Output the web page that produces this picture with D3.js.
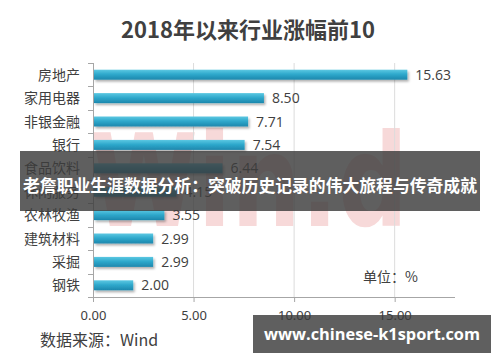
<!DOCTYPE html>
<html>
<head>
<meta charset="utf-8">
<script src="https://cdn.jsdelivr.net/npm/d3@7"></script>
<style>
body { margin: 0; background: #fff; }
text { font-family: "Noto Sans CJK SC", "Noto Sans", sans-serif; }
</style>
</head>
<body>
<div id="chart-area"></div>
<script>
// SVG size
var width = 500,
		height = 362;

// Data
var categories = ["房地产", "家用电器", "非银金融", "银行", "食品饮料", "休闲服务", "农林牧渔", "建筑材料", "采掘", "钢铁"];
var values = [15.63, 8.50, 7.71, 7.54, 6.44, 4.15, 3.55, 2.99, 2.99, 2.00];
var xTicks = [0, 5, 10, 15];

var data = categories.map(function(c, i){ return { name: c, value: values[i] }; });

var svg = d3.select("#chart-area").append("svg")
		.attr("width", width)
		.attr("height", height);

var defs = svg.append("defs");
var grad = defs.append("linearGradient")
		.attr("id", "barGrad")
		.attr("x1", 0).attr("y1", 0).attr("x2", 0).attr("y2", 1);
grad.append("stop").attr("offset", "0%").attr("stop-color", "#5cc8e2");
grad.append("stop").attr("offset", "45%").attr("stop-color", "#2fa9cc");
grad.append("stop").attr("offset", "100%").attr("stop-color", "#1d87ad");

var shadow = defs.append("filter").attr("id", "shadow")
		.attr("x", "-5%").attr("y", "-30%").attr("width", "115%").attr("height", "190%");
shadow.append("feDropShadow")
		.attr("dx", 1.5).attr("dy", 2).attr("stdDeviation", 1.3)
		.attr("flood-color", "#000").attr("flood-opacity", 0.3);

// Scales
var x = d3.scaleLinear()
		.domain([0, 18])
		.range([93, 455]);

var y = d3.scaleBand()
		.domain(categories)
		.range([63, 297]);

// Title
svg.append("text")
		.attr("x", 248).attr("y", 38)
		.attr("text-anchor", "middle")
		.attr("font-size", 22).attr("font-weight", "bold")
		.attr("fill", "#404040")
		.text("2018年以来行业涨幅前10");

// Watermark (faint logo behind the bars)
svg.append("text")
		.attr("x", 90).attr("y", 226)
		.attr("font-size", 128).attr("font-weight", "bold")
		.attr("fill", "#eea5a5").attr("opacity", 0.42)
		.attr("textLength", 318).attr("lengthAdjust", "spacingAndGlyphs")
		.style("font-family", "DejaVu Sans")
		.text("Win.d");

// Grid lines
svg.selectAll(".grid")
		.data(xTicks.slice(1))
		.enter().append("line")
		.attr("x1", function(d){ return x(d); })
		.attr("x2", function(d){ return x(d); })
		.attr("y1", 63).attr("y2", 297)
		.attr("stroke", "#dcdcdc").attr("stroke-width", 1);

// X axis
var xAxis = d3.axisBottom(x)
		.tickValues(xTicks)
		.tickFormat(d3.format(".2f"))
		.tickSize(5)
		.tickSizeOuter(0);

var gx = svg.append("g")
		.attr("transform", "translate(0,297)")
		.call(xAxis);
gx.select(".domain").attr("stroke", "#a6a6a6").attr("d", "M88,0.5H455");
gx.selectAll(".tick line").attr("stroke", "#a6a6a6");
gx.selectAll(".tick text")
		.attr("y", 14)
		.attr("font-size", 13).attr("fill", "#404040")
		.style("font-family", "'Noto Sans', sans-serif");

// Y axis
svg.append("line")
		.attr("x1", 93.5).attr("x2", 93.5)
		.attr("y1", 63).attr("y2", 297)
		.attr("stroke", "#a6a6a6");

var yTickPos = d3.range(categories.length).map(function(i){ return 63 + i * y.step(); });
svg.selectAll(".ytick")
		.data(yTickPos)
		.enter().append("line")
		.attr("x1", 88).attr("x2", 93)
		.attr("y1", function(d){ return Math.round(d) + 0.5; })
		.attr("y2", function(d){ return Math.round(d) + 0.5; })
		.attr("stroke", "#a6a6a6");

svg.selectAll(".cat")
		.data(data)
		.enter().append("text")
		.attr("x", 80)
		.attr("y", function(d){ return y(d.name) + y.bandwidth() / 2 + 5; })
		.attr("text-anchor", "end")
		.attr("font-size", 14).attr("fill", "#404040")
		.text(function(d){ return d.name; });

// Bars
svg.selectAll(".bar")
		.data(data)
		.enter().append("rect")
		.attr("x", x(0) + 1)
		.attr("y", function(d){ return y(d.name) + y.bandwidth() / 2 - 5; })
		.attr("width", function(d){ return x(d.value) - x(0) - 1; })
		.attr("height", 10)
		.attr("fill", "url(#barGrad)")
		.attr("filter", "url(#shadow)");

// Value labels
svg.selectAll(".val")
		.data(data)
		.enter().append("text")
		.attr("x", function(d){ return x(d.value) + 8; })
		.attr("y", function(d){ return y(d.name) + y.bandwidth() / 2 + 5; })
		.attr("font-size", 14).attr("fill", "#404040")
		.style("font-family", "'Open Sans', 'Noto Sans', sans-serif")
		.text(function(d){ return d3.format(".2f")(d.value); });

// Unit and source
svg.append("text")
		.attr("x", 363).attr("y", 282)
		.attr("font-size", 14).attr("fill", "#404040")
		.text("单位：%");

svg.append("text")
		.attr("x", 40).attr("y", 346)
		.attr("font-size", 16).attr("fill", "#404040")
		.text("数据来源：Wind");

// Overlay band
svg.append("rect")
		.attr("x", 20).attr("y", 151)
		.attr("width", 460).attr("height", 60)
		.attr("fill", "#3c3c3c").attr("opacity", 0.82);

svg.append("text")
		.attr("x", 250).attr("y", 192)
		.attr("text-anchor", "middle")
		.attr("font-size", 17).attr("font-weight", "bold")
		.attr("fill", "#fff")
		.attr("textLength", 454).attr("lengthAdjust", "spacingAndGlyphs")
		.text("老詹职业生涯数据分析：突破历史记录的伟大旅程与传奇成就");

// Bottom banner
svg.append("rect")
		.attr("x", 253).attr("y", 315)
		.attr("width", 238).attr("height", 38)
		.attr("fill", "#3c3c3c").attr("opacity", 0.82);

svg.append("text")
		.attr("x", 372).attr("y", 340)
		.attr("text-anchor", "middle")
		.attr("font-size", 16).attr("font-weight", "bold")
		.attr("fill", "#fff")
		.attr("textLength", 216).attr("lengthAdjust", "spacingAndGlyphs")
		.style("font-family", "'Open Sans', sans-serif")
		.text("www.chinese-k1sport.com");
</script>
</body>
</html>
